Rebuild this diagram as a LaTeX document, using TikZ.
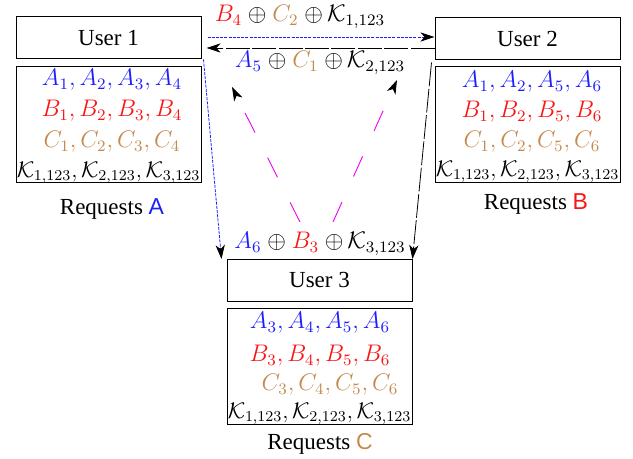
\documentclass[tikz,border=0pt]{standalone}
\usepackage{fontspec}
\setmainfont{Liberation Serif}
\newfontfamily\lettersf{Liberation Sans}
\usetikzlibrary{arrows.meta,calc}
\definecolor{fileA}{RGB}{30,30,255}
\definecolor{fileB}{RGB}{250,20,20}
\definecolor{fileC}{RGB}{196,138,78}
\definecolor{hint}{RGB}{240,0,240}
\tikzset{
  userbox/.style={draw, line width=0.5pt, minimum width=92.5pt, minimum height=21pt, inner sep=0pt},
  cachebox/.style={draw, line width=0.5pt, minimum width=92.5pt, minimum height=58pt, inner sep=0pt},
  row/.style={inner sep=0pt},
  tip/.style={-{Stealth[length=7pt,width=4.6pt,inset=2pt,color=black]}},
  bluelink/.style={tip, fileA, line width=0.4pt, dash pattern=on 1.5pt off 0.6pt},
  blacklink/.style={tip, black, line width=0.4pt, dash pattern=on 12pt off 1.2pt},
  hintlink/.style={tip, hint, line width=0.45pt, dash pattern=on 11pt off 14pt},
}
\newcommand{\fA}[1]{\textcolor{fileA}{#1}}
\newcommand{\fB}[1]{\textcolor{fileB}{#1}}
\newcommand{\fC}[1]{\textcolor{fileC}{#1}}
\newcommand{\keys}{\scalebox{0.94}{$\mathcal{K}_{1,123},\mathcal{K}_{2,123},\mathcal{K}_{3,123}$}}
\begin{document}
\begin{tikzpicture}[x=0.5pt,y=-0.5pt,font=\fontsize{11.5}{14}\selectfont]
\useasboundingbox (0,0) rectangle (633,459);

% users
\node[userbox] (u1) at (108.5,38) {User 1};
\node[userbox] (u2) at (527.5,39) {User 2};
\node[userbox] (u3) at (319.5,280.5) {User 3};

% cache contents of each user
\node[cachebox] (c1) at (108.5,125) {};
\node[row] at (112,80) {\fA{$A_1,A_2,A_3,A_4$}};
\node[row] at (112,111) {\fB{$B_1,B_2,B_3,B_4$}};
\node[row] at (112,142) {\fC{$C_1,C_2,C_3,C_4$}};
\node[row] at (108.5,173) {\keys};
\node (r1) at (112,209) {Requests {\lettersf\fA{A}}};

\node[cachebox] (c2) at (527.5,125) {};
\node[row] at (532,82) {\fA{$A_1,A_2,A_5,A_6$}};
\node[row] at (532,112) {\fB{$B_1,B_2,B_5,B_6$}};
\node[row] at (532,142) {\fC{$C_1,C_2,C_5,C_6$}};
\node[row] at (527.5,172) {\keys};
\node (r2) at (536,204) {Requests {\lettersf\fB{B}}};

\node[cachebox] (c3) at (319.5,367) {};
\node[row] at (320,323) {\fA{$A_3,A_4,A_5,A_6$}};
\node[row] at (320,356) {\fB{$B_3,B_4,B_5,B_6$}};
\node[row] at (330,385) {\fC{$C_3,C_4,C_5,C_6$}};
\node[row] at (319.5,414) {\keys};
\node (r3) at (320,444) {Requests {\lettersf\fC{C}}};

% transmissions between users
\draw[bluelink] ($(u1.east)+(6,-1)$) -- ($(u2.west)+(0,-2)$);
\draw[blacklink] ($(u2.west)+(0,9)$) -- ($(u1.east)+(5,10)$);
\draw[bluelink] ($(u1.south east)+(2,0)$) -- ($(u3.north west)+(-5,0)$);
\draw[blacklink] ($(u2.south west)+(-3,2)$) -- (u3.north east);

% coded messages
\node (m12) at (300,17) {\fB{$B_4$} $\oplus$ \fC{$C_2$} $\oplus\,\mathcal{K}_{1,123}$};
\node (m21) at (320,63) {\fA{$A_5$} $\oplus$ \fC{$C_1$} $\oplus\,\mathcal{K}_{2,123}$};
\node (m3) at (320,244) {\fA{$A_6$} $\oplus$ \fB{$B_3$} $\oplus\,\mathcal{K}_{3,123}$};

% multicast from user 3
\coordinate (h1s) at (300,222);
\coordinate (h1e) at (232,87);
\coordinate (h2s) at (333,222);
\coordinate (h2e) at (397,80);
\draw[hintlink] (h1s) -- (h1e);
\draw[hintlink] (h2s) -- (h2e);
\end{tikzpicture}
\end{document}
